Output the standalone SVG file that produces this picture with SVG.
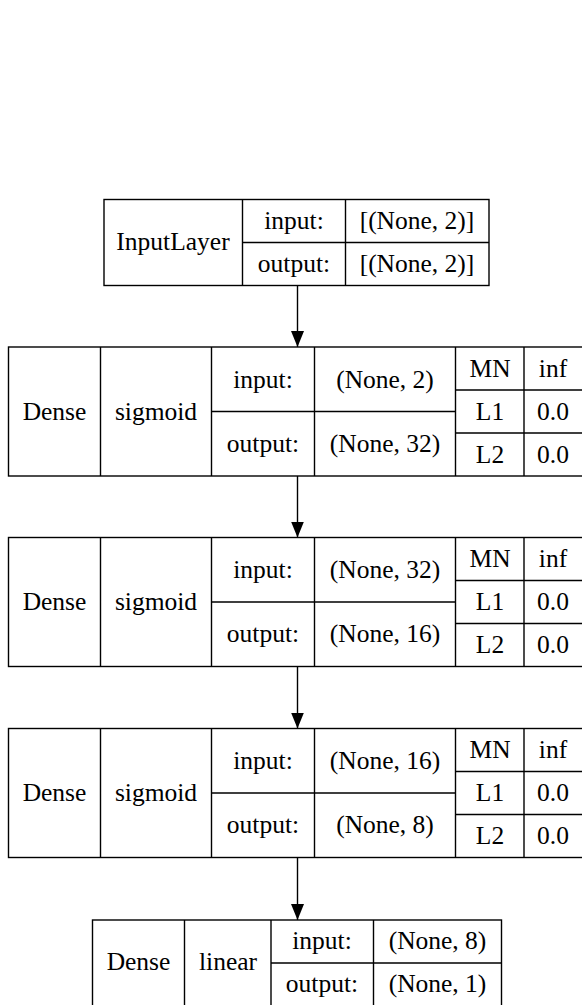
<svg xmlns="http://www.w3.org/2000/svg" width="582" height="1005" viewBox="0 0 582 1005">
<style>
.b{fill:none;stroke:#000;stroke-width:1.4}
.t{font-family:"Liberation Serif","Times New Roman",serif;font-size:25.5px;fill:#000;text-anchor:middle}
.c{stroke:#000;stroke-width:1.4;fill:none}
</style>
<defs>
<marker id="ah" markerUnits="userSpaceOnUse" markerWidth="16" markerHeight="13" refX="16" refY="6.5" orient="auto">
<path d="M0,0 L16,6.5 L0,13 z" fill="#000"/>
</marker>
</defs>
<rect width="582" height="1005" fill="#fff"/>
<g id="connectors">
<line class="c" x1="297.5" y1="285.5" x2="297.5" y2="347" marker-end="url(#ah)"/>
<line class="c" x1="297.5" y1="476" x2="297.5" y2="537.5" marker-end="url(#ah)"/>
<line class="c" x1="297.5" y1="666.5" x2="297.5" y2="728.5" marker-end="url(#ah)"/>
<line class="c" x1="297.5" y1="857.5" x2="297.5" y2="920" marker-end="url(#ah)"/>
</g>
<g id="input_layer">
<rect class="b" x="104" y="199.5" width="385" height="86"/>
<path class="b" d="M242.5,199.5V285.5M345.5,199.5V285.5M242.5,242.5H489"/>
<text class="t" x="173" y="249.5">InputLayer</text>
<text class="t" x="294" y="228.5">input:</text>
<text class="t" x="294" y="271.5">output:</text>
<text class="t" x="417" y="228.5">[(None, 2)]</text>
<text class="t" x="417" y="271.5">[(None, 2)]</text>
</g>
<g id="dense_1" transform="translate(0,347)">
<rect class="b" x="8.5" y="0" width="590" height="129"/>
<path class="b" d="M100.5,0V129M211.5,0V129M314.5,0V129M455.5,0V129M524,0V129M211.5,64.5H455.5M455.5,43H600M455.5,86H600"/>
<text class="t" x="54.5" y="72.5">Dense</text>
<text class="t" x="156" y="72.5">sigmoid</text>
<text class="t" x="263" y="40.5">input:</text>
<text class="t" x="263" y="104.5">output:</text>
<text class="t" x="385" y="40.5">(None, 2)</text>
<text class="t" x="385" y="104.5">(None, 32)</text>
<text class="t" x="490" y="29.5">MN</text>
<text class="t" x="553" y="29.5">inf</text>
<text class="t" x="490" y="72.5">L1</text>
<text class="t" x="553" y="72.5">0.0</text>
<text class="t" x="490" y="115.5">L2</text>
<text class="t" x="553" y="115.5">0.0</text>
</g>
<g id="dense_2" transform="translate(0,537.5)">
<rect class="b" x="8.5" y="0" width="590" height="129"/>
<path class="b" d="M100.5,0V129M211.5,0V129M314.5,0V129M455.5,0V129M524,0V129M211.5,64.5H455.5M455.5,43H600M455.5,86H600"/>
<text class="t" x="54.5" y="72.5">Dense</text>
<text class="t" x="156" y="72.5">sigmoid</text>
<text class="t" x="263" y="40.5">input:</text>
<text class="t" x="263" y="104.5">output:</text>
<text class="t" x="385" y="40.5">(None, 32)</text>
<text class="t" x="385" y="104.5">(None, 16)</text>
<text class="t" x="490" y="29.5">MN</text>
<text class="t" x="553" y="29.5">inf</text>
<text class="t" x="490" y="72.5">L1</text>
<text class="t" x="553" y="72.5">0.0</text>
<text class="t" x="490" y="115.5">L2</text>
<text class="t" x="553" y="115.5">0.0</text>
</g>
<g id="dense_3" transform="translate(0,728.5)">
<rect class="b" x="8.5" y="0" width="590" height="129"/>
<path class="b" d="M100.5,0V129M211.5,0V129M314.5,0V129M455.5,0V129M524,0V129M211.5,64.5H455.5M455.5,43H600M455.5,86H600"/>
<text class="t" x="54.5" y="72.5">Dense</text>
<text class="t" x="156" y="72.5">sigmoid</text>
<text class="t" x="263" y="40.5">input:</text>
<text class="t" x="263" y="104.5">output:</text>
<text class="t" x="385" y="40.5">(None, 16)</text>
<text class="t" x="385" y="104.5">(None, 8)</text>
<text class="t" x="490" y="29.5">MN</text>
<text class="t" x="553" y="29.5">inf</text>
<text class="t" x="490" y="72.5">L1</text>
<text class="t" x="553" y="72.5">0.0</text>
<text class="t" x="490" y="115.5">L2</text>
<text class="t" x="553" y="115.5">0.0</text>
</g>
<g id="dense_4" transform="translate(0,920)">
<rect class="b" x="92.5" y="0" width="409" height="86"/>
<path class="b" d="M184.5,0V86M271,0V86M373.5,0V86M271,43H501.5"/>
<text class="t" x="138.5" y="50">Dense</text>
<text class="t" x="228" y="50">linear</text>
<text class="t" x="322" y="29">input:</text>
<text class="t" x="322" y="72">output:</text>
<text class="t" x="437.5" y="29">(None, 8)</text>
<text class="t" x="437.5" y="72">(None, 1)</text>
</g>
</svg>
